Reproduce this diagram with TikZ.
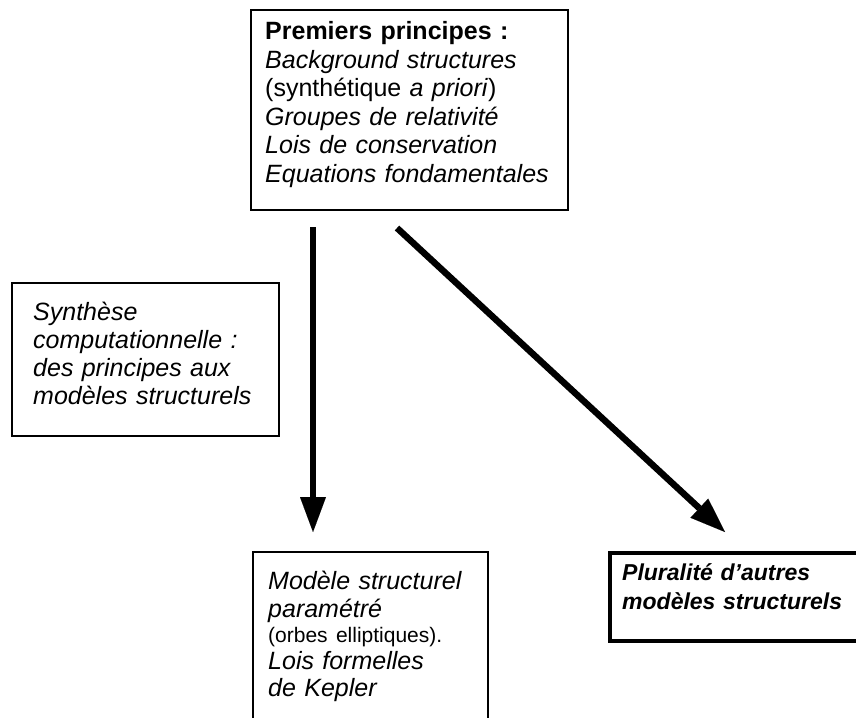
\documentclass[tikz,border=0pt]{standalone}
\usepackage{fontspec}
\setmainfont{Liberation Sans}
\usetikzlibrary{arrows.meta}
\begin{document}
\begin{tikzpicture}[x=1pt,y=-1pt,
  frame/.style={draw, line width=2pt, rectangle, inner sep=0pt},
  heavyframe/.style={draw, line width=4.5pt, rectangle, inner sep=0pt},
  boxtext/.style={anchor=base west, inner sep=0pt, align=left, text width=#1},
  bigarrow/.style={line width=6.5pt,
    -{Triangle[length=35pt,width=26pt,line width=0.01pt]}}
]
\useasboundingbox (0,0) rectangle (856,717);
\clip (0,0) rectangle (856,717);

% frames
\node[frame, minimum width=317pt, minimum height=200pt] (principes) at (409.5,110) {};
\node[frame, minimum width=267pt, minimum height=153pt] (synthese) at (145.5,359.5) {};
\node[frame, minimum width=235pt, minimum height=200pt] (modele) at (370.5,652) {};
\node[heavyframe, minimum width=270pt, minimum height=88pt] (pluralite) at (745,597) {};

% texts
\node[boxtext=300pt, font=\fontsize{25}{28.5}\selectfont] (principesT) at (265,40)
  {\textbf{Premiers principes :}\\
   \textit{Background structures}\\
   (synthétique \textit{a priori})\\
   \textit{Groupes de relativité}\\
   \textit{Lois de conservation}\\
   \textit{Equations fondamentales}};

\node[boxtext=250pt, font=\fontsize{25}{28.3}\selectfont\itshape] (syntheseT) at (33,320)
  {Synthèse\\
   computationnelle :\\
   des principes aux\\
   modèles structurels};

\node[boxtext=220pt, font=\fontsize{25}{28}\selectfont\itshape] (modeleT) at (268,589)
  {Modèle structurel\\
   paramétré\\[-3pt]
   {\upshape\fontsize{21}{28}\selectfont (orbes elliptiques).}\\[-1pt]
   Lois formelles\\[-1pt]
   de Kepler};

\node[boxtext=260pt, font=\fontsize{23}{29}\selectfont\bfseries\itshape] (pluraliteT) at (622,580)
  {Pluralité d’autres\\
   modèles structurels};

% arrows
\coordinate (vstart) at (313,227);
\coordinate (vend) at (313,532);
\coordinate (dstart) at (397,228);
\coordinate (dend) at (725,532);
\draw[bigarrow] (vstart) -- (vend);
\draw[bigarrow] (dstart) -- (dend);
\end{tikzpicture}
\end{document}
